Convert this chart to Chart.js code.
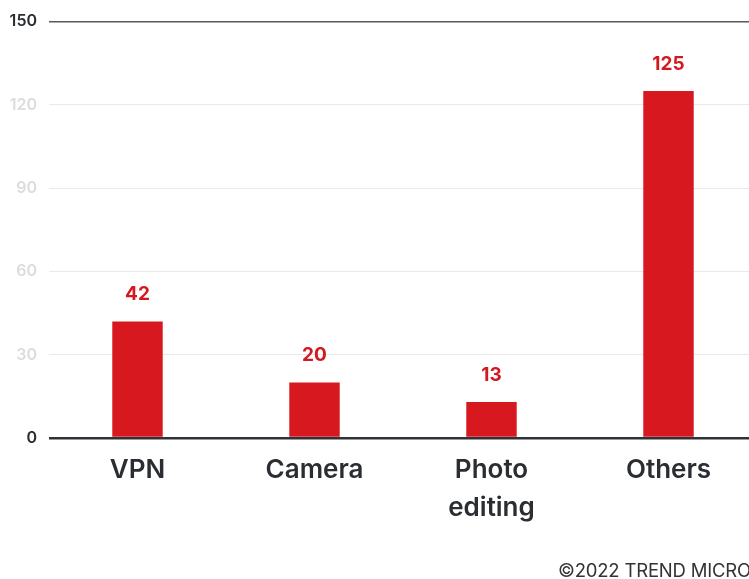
<!DOCTYPE html>
<html>
<head>
<meta charset="utf-8">
<script src="https://cdn.jsdelivr.net/npm/chart.js@4"></script>
<style>
  html, body { margin: 0; padding: 0; background: #fff; overflow: hidden; width: 749px; height: 579px; }
  #wrap { position: relative; width: 749px; height: 579px; overflow: hidden; }
  canvas { position: absolute; left: 0; top: 0; }
  #copy { position: absolute; left: 558px; top: 559px; font-family: Inter, "Liberation Sans", sans-serif; font-size: 18.5px; line-height: 22px; color: #333; white-space: nowrap; letter-spacing: -0.2px; }
</style>
</head>
<body>
<div id="wrap">
  <canvas id="c" width="757" height="579" style="width:757px;height:579px"></canvas>
  <div id="copy">©2022 TREND MICRO</div>
</div>
<script>
const categories = [['VPN'], ['Camera'], ['Photo', 'editing'], ['Others']];
const values = [42, 20, 13, 125];
const yTicks = [0, 30, 60, 90, 120, 150];

const RED = '#d7181f';

const valueLabels = {
  id: 'valueLabels',
  afterDatasetsDraw(chart) {
    const ctx = chart.ctx;
    const meta = chart.getDatasetMeta(0);
    ctx.save();
    ctx.fillStyle = '#d3191f';
    ctx.font = '700 19px Inter, "Liberation Sans", sans-serif';
    ctx.textAlign = 'center';
    ctx.textBaseline = 'middle';
    meta.data.forEach((bar, i) => {
      ctx.fillText(String(chart.data.datasets[0].data[i]), bar.x, bar.y - 27);
    });
    ctx.restore();
  }
};

new Chart(document.getElementById('c'), {
  type: 'bar',
  data: {
    labels: categories,
    datasets: [{
      data: values,
      backgroundColor: RED,
      barPercentage: 0.285,
      categoryPercentage: 1
    }]
  },
  options: {
    responsive: false,
    animation: false,
    devicePixelRatio: 1,
    layout: { padding: { top: 21, right: 0, left: 0, bottom: 0 } },
    plugins: { legend: { display: false }, tooltip: { enabled: false } },
    scales: {
      x: {
        grid: { display: false, drawTicks: false },
        border: { display: false },
        ticks: {
          color: '#2a2e33',
          padding: 13,
          maxRotation: 0,
          autoSkip: false,
          font: { family: 'Inter, "Liberation Sans", sans-serif', size: 26, weight: '600', lineHeight: 1.46 }
        },
        afterFit(scale) { scale.height = 141; }
      },
      y: {
        min: 0,
        max: 150,
        afterBuildTicks(scale) { scale.ticks = yTicks.map(v => ({ value: v })); },
        border: { display: false },
        grid: {
          drawTicks: false,
          color: (c) => c.tick && c.tick.value === 0 ? '#2f3338' : (c.tick && c.tick.value === 150 ? '#555a5e' : '#e9e9e9'),
          lineWidth: (c) => c.tick && c.tick.value === 0 ? 2.5 : (c.tick && c.tick.value === 150 ? 1.5 : 1)
        },
        ticks: {
          padding: 12,
          color: (c) => (c.tick && (c.tick.value === 0 || c.tick.value === 150)) ? '#2a2e33' : '#dcdcdc',
          font: { family: 'Inter, "Liberation Sans", sans-serif', size: 16, weight: '600' }
        },
        afterFit(scale) { scale.width = 49; }
      }
    }
  },
  plugins: [valueLabels]
});
</script>
</body>
</html>
